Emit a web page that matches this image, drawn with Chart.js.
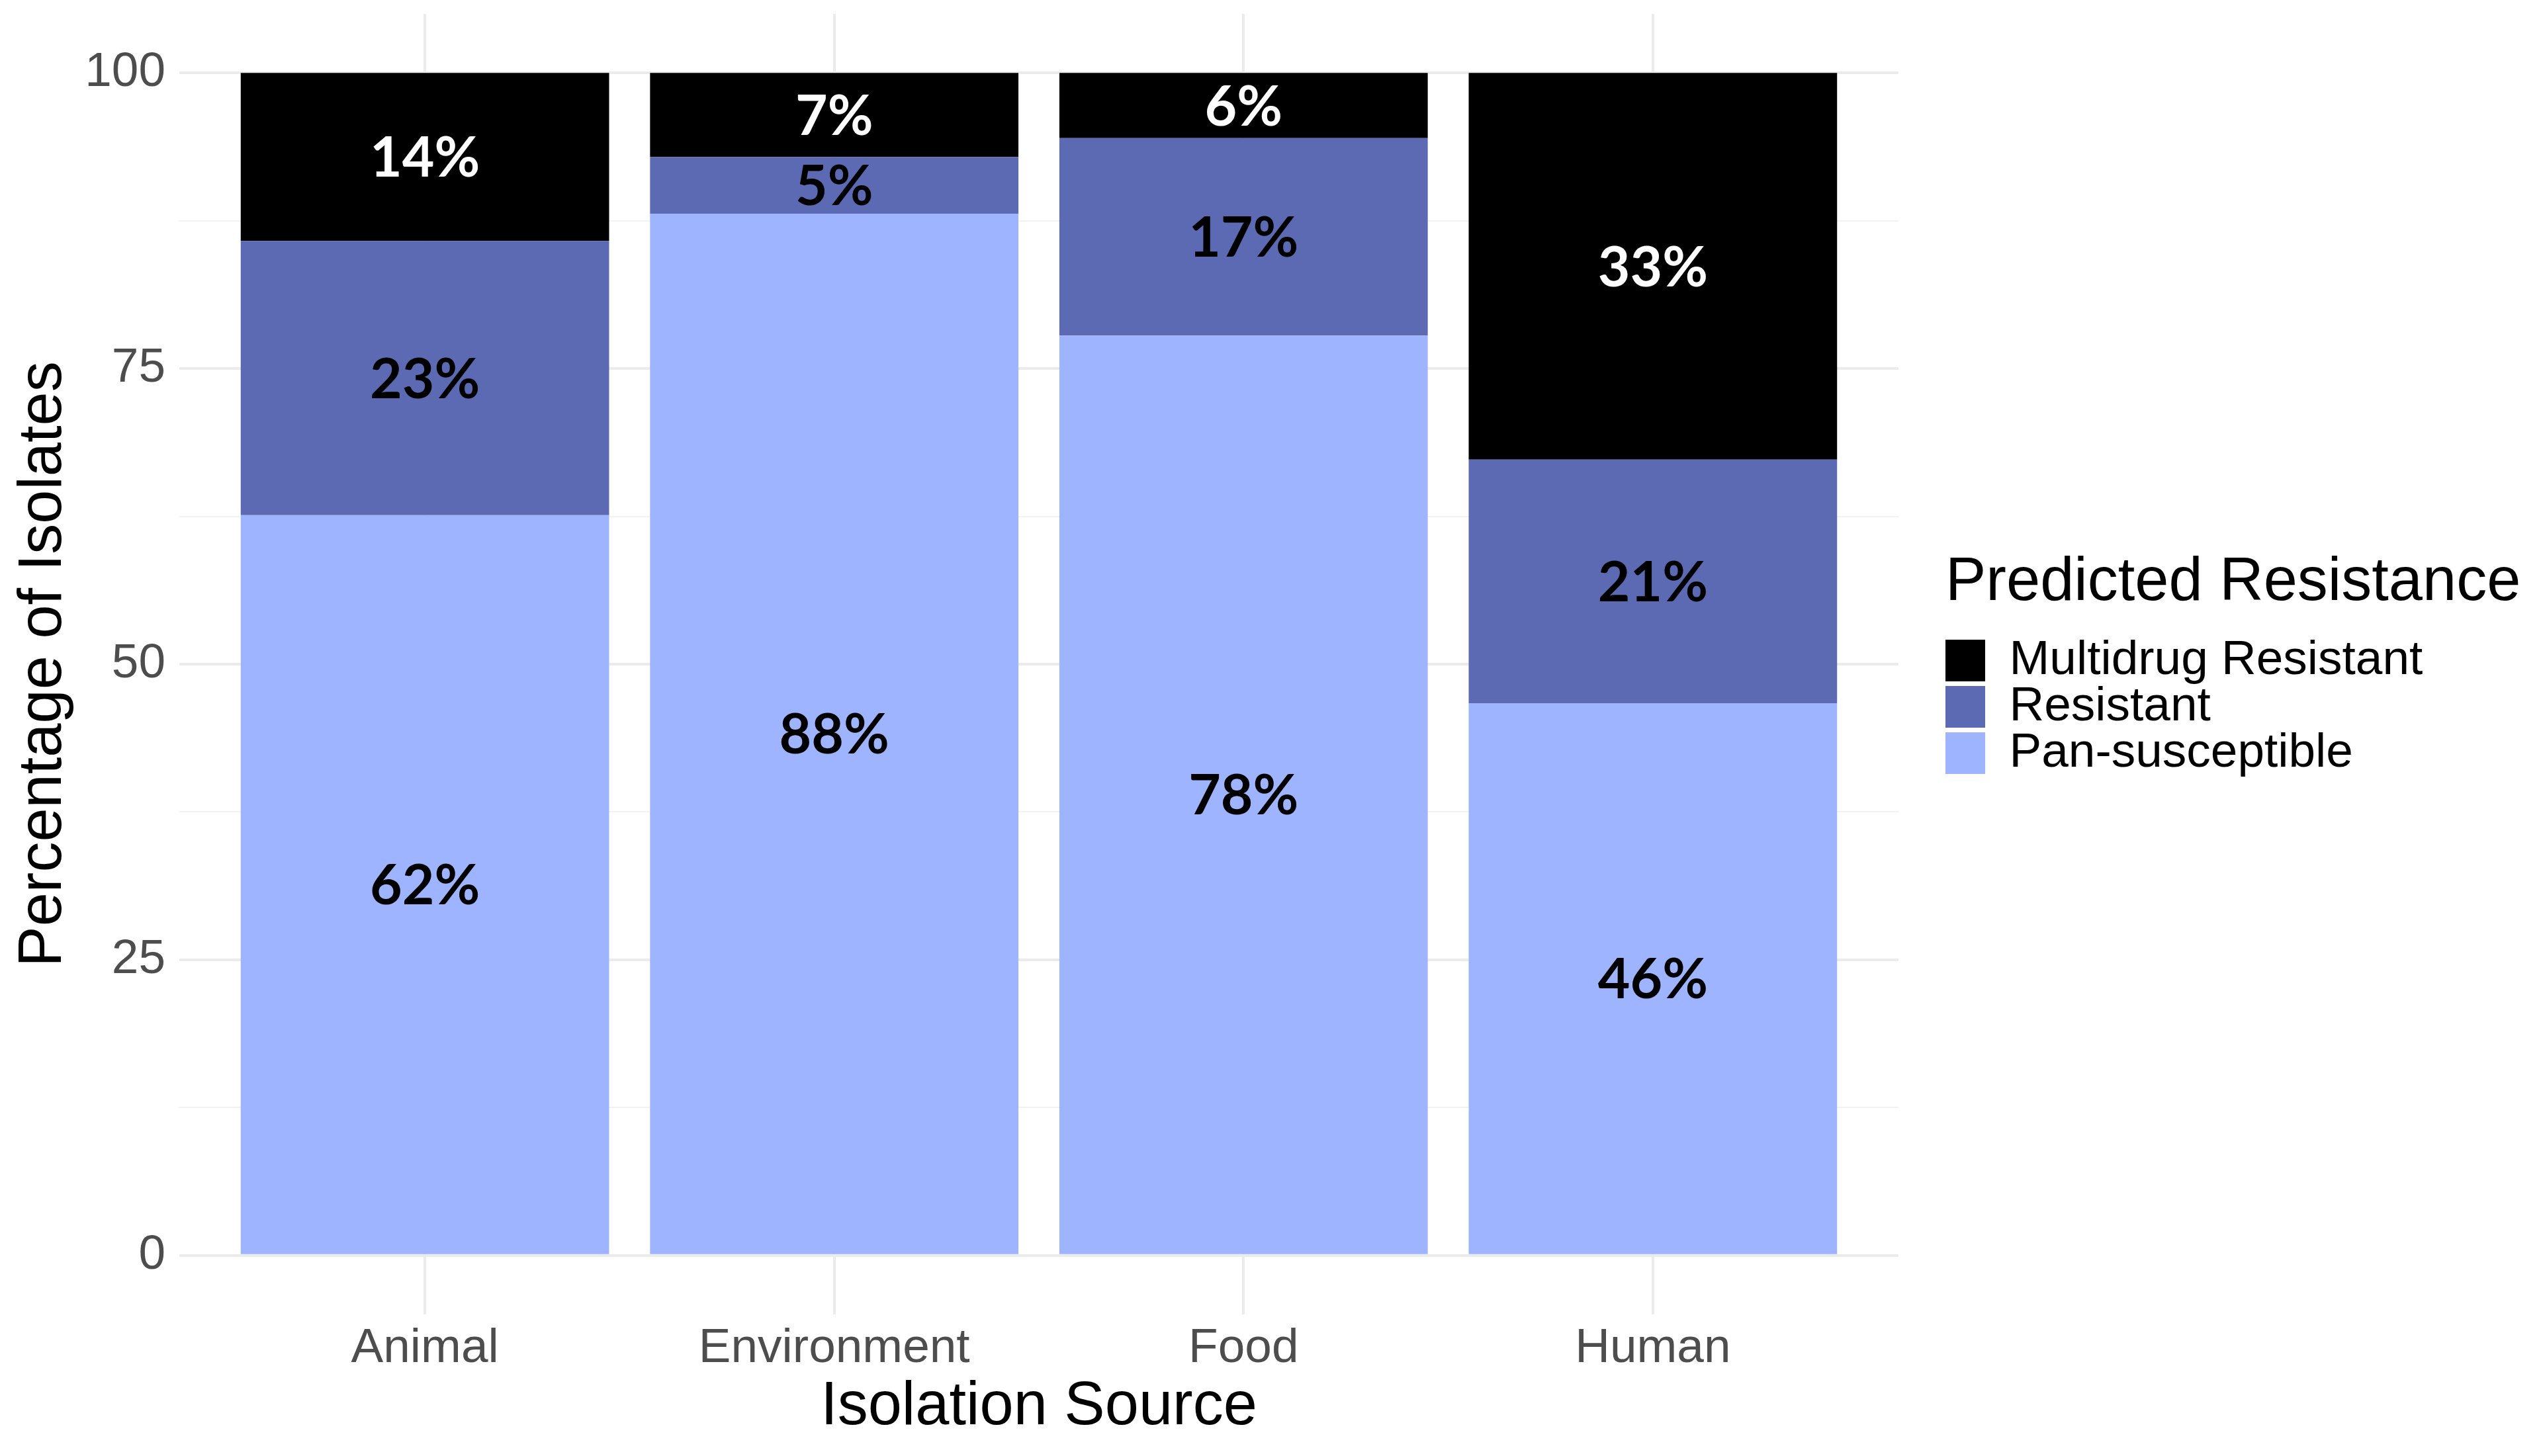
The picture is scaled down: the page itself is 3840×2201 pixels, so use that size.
<!DOCTYPE html>
<html>
<head>
<meta charset="utf-8">
<script src="https://cdn.jsdelivr.net/npm/chart.js@4.4.1/dist/chart.umd.min.js"></script>
<style>
  html, body { margin: 0; padding: 0; background: #ffffff; }
  #wrap { width: 3840px; height: 2201px; }
</style>
</head>
<body>
<div id="wrap"><canvas id="c" width="3840" height="2201"></canvas></div>
<script>
// ---- data ----
const categories = ['Animal', 'Environment', 'Food', 'Human'];
const panSusceptible = [62.6, 88.1, 77.8, 46.7];
const resistant      = [23.2, 4.8, 16.7, 20.6];
const multidrug      = [14.2, 7.1, 5.5, 32.7];
const panLabels = ['62%', '88%', '78%', '46%'];
const resLabels = ['23%', '5%', '17%', '21%'];
const mdrLabels = ['14%', '7%', '6%', '33%'];
const yMajorTicks = [0, 25, 50, 75, 100];
const yMinorTicks = [12.5, 37.5, 62.5, 87.5];

const FONT = "'Liberation Sans', Arial, sans-serif";
Chart.defaults.font.family = FONT;

const LEGEND_WIDTH = 900;

const legendWidthPlugin = {
  id: 'legendWidth',
  beforeLayout(chart) {
    const lg = chart.legend;
    if (!lg || lg._fixedWidth) return;
    const fit = lg.fit;
    lg.fit = function () { fit.call(this); this.width = LEGEND_WIDTH; };
    lg._fixedWidth = true;
  }
};

const segmentLabelPlugin = {
  id: 'segmentLabels',
  afterDatasetsDraw(chart) {
    const ctx = chart.ctx;
    ctx.save();
    ctx.font = "bold 84px Lato, 'Open Sans', sans-serif";
    ctx.textAlign = 'center';
    ctx.textBaseline = 'alphabetic';
    chart.data.datasets.forEach((ds, di) => {
      const meta = chart.getDatasetMeta(di);
      meta.data.forEach((bar, i) => {
        const mid = (bar.y + bar.base) / 2;
        ctx.fillStyle = ds.labelColor;
        ctx.fillText(ds.segmentLabels[i], bar.x, mid + 0.358 * 84);
      });
    });
    ctx.restore();
  }
};

new Chart(document.getElementById('c'), {
  type: 'bar',
  data: {
    labels: categories,
    datasets: [
      { label: 'Pan-susceptible', data: panSusceptible, backgroundColor: '#9FB4FE',
        stack: 's', segmentLabels: panLabels, labelColor: '#000000' },
      { label: 'Resistant', data: resistant, backgroundColor: '#5B6AB3',
        stack: 's', segmentLabels: resLabels, labelColor: '#000000' },
      { label: 'Multidrug Resistant', data: multidrug, backgroundColor: '#000000',
        stack: 's', segmentLabels: mdrLabels, labelColor: '#FFFFFF' }
    ]
  },
  options: {
    responsive: false,
    devicePixelRatio: 1,
    animation: false,
    layout: { padding: { top: 21, right: 0, bottom: 0, left: 0 } },
    datasets: { bar: { barPercentage: 0.9, categoryPercentage: 1.0, borderWidth: 0 } },
    scales: {
      x: {
        type: 'category',
        offset: true,
        afterBuildTicks(s) { s._startValue = -0.6; s._valueRange = categories.length + 0.2; },
        afterFit(s) { s.height = 214; s.paddingLeft = 0; s.paddingRight = 0; },
        grid: { offset: false, color: '#EBEBEB', lineWidth: 4, drawTicks: false },
        border: { display: false },
        ticks: { padding: 8, color: '#4D4D4D', font: { size: 73 } },
        title: { display: true, text: 'Isolation Source', color: '#000000',
                 font: { size: 92 }, padding: { top: 0, bottom: 18 } }
      },
      y: {
        type: 'linear',
        stacked: true,
        min: -5,
        max: 105,
        afterBuildTicks(s) {
          s.ticks = yMajorTicks.concat(yMinorTicks).sort((a, b) => a - b).map(v => ({ value: v }));
        },
        afterFit(s) { s.width = 271; s.paddingTop = 0; s.paddingBottom = 0; },
        grid: {
          drawTicks: false,
          color: c => yMajorTicks.includes(c.tick.value) ? '#EBEBEB' : '#F3F3F3',
          lineWidth: c => yMajorTicks.includes(c.tick.value) ? 4 : 2
        },
        border: { display: false },
        ticks: {
          padding: 21, color: '#4D4D4D', font: { size: 73 },
          callback: v => yMajorTicks.includes(v) ? String(v) : ''
        },
        title: { display: true, text: 'Percentage of Isolates', color: '#000000',
                 font: { size: 92 }, padding: { top: 11, bottom: 0 } }
      },
      gap: {
        type: 'linear',
        position: 'right',
        display: true,
        afterFit(s) { s.width = 71; s.paddingTop = 0; s.paddingBottom = 0; },
        grid: { display: false },
        border: { display: false },
        ticks: { display: false }
      }
    },
    plugins: {
      tooltip: { enabled: false },
      legend: {
        position: 'right',
        align: 'center',
        fullSize: false,
        reverse: true,
        title: { display: true, text: 'Predicted Resistance', color: '#000000',
                 position: 'start', font: { size: 92 }, padding: { top: 0, bottom: 18.6 } },
        labels: { color: '#000000', font: { size: 73 }, boxWidth: 63, boxHeight: 63, padding: -3 }
      }
    }
  },
  plugins: [legendWidthPlugin, segmentLabelPlugin]
});
</script>
</body>
</html>
